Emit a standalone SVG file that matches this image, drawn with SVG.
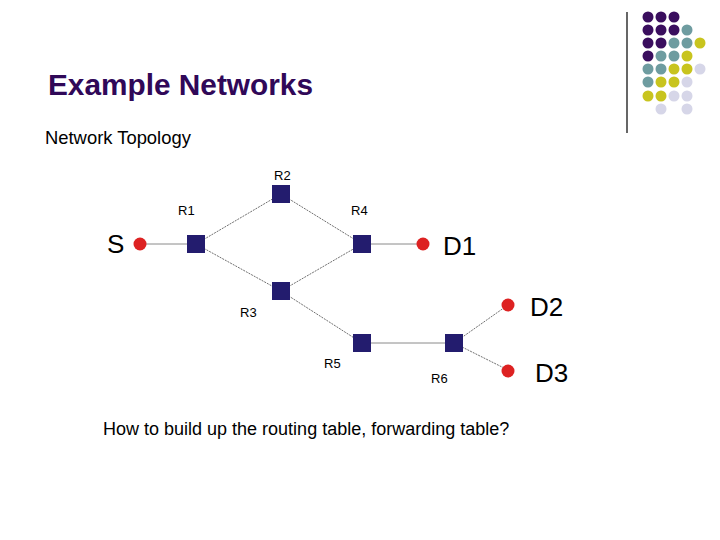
<svg xmlns="http://www.w3.org/2000/svg" width="720" height="540" viewBox="0 0 720 540">
<style>
.t{font-family:"Liberation Sans",Arial,sans-serif;fill:#000}
.lbl{font-size:13px}
.big{font-size:26px}
.rt{fill:#231c6e}
.ep{fill:#dd2222}
.ln{stroke:#8a8a8a;stroke-width:1;fill:none}
.dl{stroke:#707070;stroke-width:1;stroke-dasharray:2 1;fill:none}
.P{fill:#3a0e5e}.T{fill:#6e9ca0}.Y{fill:#c8c41e}.L{fill:#d6d6e8}
</style>
<rect width="720" height="540" fill="#fff"/>
<g id="decor">
<line x1="627" y1="12" x2="627" y2="133" stroke="#000" stroke-width="1.2"/>
<circle class="P" cx="648" cy="17" r="5.5"/><circle class="P" cx="661" cy="17" r="5.5"/><circle class="P" cx="674" cy="17" r="5.5"/>
<circle class="P" cx="648" cy="30" r="5.5"/><circle class="P" cx="661" cy="30" r="5.5"/><circle class="P" cx="674" cy="30" r="5.5"/><circle class="T" cx="687" cy="30" r="5.5"/>
<circle class="P" cx="648" cy="43" r="5.5"/><circle class="P" cx="661" cy="43" r="5.5"/><circle class="T" cx="674" cy="43" r="5.5"/><circle class="T" cx="687" cy="43" r="5.5"/><circle class="Y" cx="700" cy="43" r="5.5"/>
<circle class="P" cx="648" cy="56" r="5.5"/><circle class="T" cx="661" cy="56" r="5.5"/><circle class="T" cx="674" cy="56" r="5.5"/><circle class="Y" cx="687" cy="56" r="5.5"/>
<circle class="T" cx="648" cy="69" r="5.5"/><circle class="T" cx="661" cy="69" r="5.5"/><circle class="Y" cx="674" cy="69" r="5.5"/><circle class="Y" cx="687" cy="69" r="5.5"/><circle class="L" cx="700" cy="69" r="5.5"/>
<circle class="T" cx="648" cy="82" r="5.5"/><circle class="Y" cx="661" cy="82" r="5.5"/><circle class="Y" cx="674" cy="82" r="5.5"/><circle class="L" cx="687" cy="82" r="5.5"/>
<circle class="Y" cx="648" cy="96" r="5.5"/><circle class="Y" cx="661" cy="96" r="5.5"/><circle class="L" cx="674" cy="96" r="5.5"/><circle class="L" cx="687" cy="96" r="5.5"/>
<circle class="L" cx="661" cy="109" r="5.5"/><circle class="L" cx="687" cy="109" r="5.5"/>
</g>
<text id="title" x="48" y="95" font-family="Liberation Sans,Arial,sans-serif" font-size="29.8" font-weight="bold" fill="#300858">Example Networks</text>
<text id="subtitle" class="t" x="45" y="144" font-size="18.4">Network Topology</text>
<g id="connectors">
<line class="ln" x1="140" y1="244" x2="196" y2="244"/>
<line class="dl" x1="196" y1="244" x2="281" y2="194"/>
<line class="dl" x1="196" y1="244" x2="281" y2="291"/>
<line class="dl" x1="281" y1="194" x2="362" y2="244"/>
<line class="dl" x1="281" y1="291" x2="362" y2="244"/>
<line class="ln" x1="362" y1="244" x2="423" y2="244"/>
<line class="dl" x1="281" y1="291" x2="362" y2="343"/>
<line class="ln" x1="362" y1="343" x2="454" y2="343"/>
<line class="dl" x1="454" y1="343" x2="508" y2="305"/>
<line class="dl" x1="454" y1="343" x2="508" y2="370"/>
</g>
<g id="S"><circle class="ep" cx="140" cy="244" r="6.5"/><text class="t big" x="107" y="253">S</text></g>
<g id="D1"><circle class="ep" cx="423" cy="244" r="6.5"/><text class="t big" x="443" y="255">D1</text></g>
<g id="D2"><circle class="ep" cx="508" cy="305" r="6.5"/><text class="t big" x="530" y="316">D2</text></g>
<g id="D3"><circle class="ep" cx="508" cy="371" r="6.5"/><text class="t big" x="535" y="382">D3</text></g>
<g id="R1"><rect class="rt" x="187" y="235" width="18" height="18"/><text class="t lbl" x="178" y="215">R1</text></g>
<g id="R2"><rect class="rt" x="272" y="185" width="18" height="18"/><text class="t lbl" x="274" y="180">R2</text></g>
<g id="R3"><rect class="rt" x="272" y="282" width="18" height="18"/><text class="t lbl" x="240" y="317">R3</text></g>
<g id="R4"><rect class="rt" x="353" y="235" width="18" height="18"/><text class="t lbl" x="351" y="215">R4</text></g>
<g id="R5"><rect class="rt" x="353" y="334" width="18" height="18"/><text class="t lbl" x="324" y="368">R5</text></g>
<g id="R6"><rect class="rt" x="445" y="334" width="18" height="18"/><text class="t lbl" x="431" y="383">R6</text></g>
<text id="question" class="t" x="103" y="435" font-size="18">How to build up the routing table, forwarding table?</text>
</svg>
